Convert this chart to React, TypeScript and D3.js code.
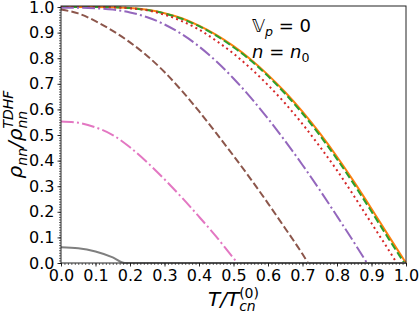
import React, { useEffect, useRef } from "react";
import * as d3 from "d3";

// temperature grid T/Tcn(0)
const tGrid = [0, 0.05, 0.1, 0.15, 0.2, 0.25, 0.3, 0.35, 0.4, 0.45, 0.5, 0.55, 0.6, 0.65, 0.7, 0.75, 0.8, 0.85, 0.9, 0.95, 1.0];

// rho_nn / rho_nn^TDHF, one array per line
const rhoOrange = [1.0, 1.0, 1.0, 0.999, 0.996, 0.989, 0.976, 0.956, 0.927, 0.891, 0.847, 0.795, 0.735, 0.667, 0.591, 0.507, 0.415, 0.316, 0.212, 0.105, 0.0];
const rhoGreen = [1.0, 1.0, 1.0, 0.999, 0.996, 0.988, 0.975, 0.954, 0.925, 0.888, 0.843, 0.791, 0.73, 0.661, 0.584, 0.499, 0.406, 0.306, 0.201, 0.094];
const rhoRed = [1.0, 1.0, 1.0, 0.999, 0.995, 0.987, 0.97, 0.945, 0.912, 0.868, 0.818, 0.76, 0.695, 0.623, 0.543, 0.455, 0.362, 0.26, 0.155, 0.05];
const rhoPurple = [0.997, 0.997, 0.995, 0.99, 0.979, 0.96, 0.932, 0.894, 0.846, 0.788, 0.721, 0.646, 0.564, 0.476, 0.383, 0.285, 0.183, 0.079];
const rhoBrown = [0.99, 0.975, 0.945, 0.907, 0.862, 0.809, 0.746, 0.673, 0.593, 0.507, 0.419, 0.328, 0.233, 0.135, 0.035];
const rhoPink = [0.553, 0.548, 0.53, 0.5, 0.452, 0.393, 0.327, 0.256, 0.181, 0.103, 0.019];
const rhoGray = [0.062, 0.058, 0.045, 0.022];

// where each curve hits zero
const tcGreen = 0.995;
const tcRed = 0.973;
const tcPurple = 0.887;
const tcBrown = 0.716;
const tcPink = 0.512;
const tcGray = 0.185;

const xTicks = [0, 0.1, 0.2, 0.3, 0.4, 0.5, 0.6, 0.7, 0.8, 0.9, 1.0];
const yTicks = [0, 0.1, 0.2, 0.3, 0.4, 0.5, 0.6, 0.7, 0.8, 0.9, 1.0];

const App = () => {
  const ref = useRef<SVGSVGElement>(null);

  useEffect(() => {
    const width = 420;
    const height = 315;
    const margin = { top: 6, left: 61, bottom: 52, right: 14 };
    const font = "DejaVu Sans";

    const svg = d3.select(ref.current);
    svg.selectAll("*").remove();

    const x = d3.scaleLinear().domain([0, 1.0]).range([margin.left, width - margin.right]);
    const y = d3.scaleLinear().domain([0, 1.004]).range([height - margin.bottom, margin.top]);

    // @ts-ignore
    const pts = (vals, tc, tail) => {
      const p = vals.map((v: number, i: number) => [tGrid[i], v]);
      if (tc !== null) p.push([tc, 0]);
      if (tail) p.push([1.0, 0]);
      return p;
    };

    const series = [
      { d: pts(rhoOrange, null, false), c: "#ff7f0e", dash: "" },
      { d: pts(rhoGreen, tcGreen, false), c: "#2ca02c", dash: "7.4,3.2" },
      { d: pts(rhoRed, tcRed, false), c: "#d62728", dash: "2,3.3" },
      { d: pts(rhoPurple, tcPurple, false), c: "#9467bd", dash: "12.8,3.2,2,3.2" },
      { d: pts(rhoBrown, tcBrown, false), c: "#8c564b", dash: "7.4,3.2" },
      { d: pts(rhoPink, tcPink, false), c: "#e377c2", dash: "12.8,3.2,2,3.2" },
      { d: pts(rhoGray, tcGray, true), c: "#7f7f7f", dash: "" },
    ];

    const line = d3
      .line()
      // @ts-ignore
      .x((d) => x(d[0]))
      // @ts-ignore
      .y((d) => y(d[1]))
      .curve(d3.curveMonotoneX);

    series.forEach((s) => {
      svg
        .append("path")
        .datum(s.d)
        .attr("fill", "none")
        .attr("stroke", s.c)
        .attr("stroke-width", 2)
        .attr("stroke-dasharray", s.dash || null)
        // @ts-ignore
        .attr("d", line);
    });

    // minor ticks
    const minor = d3.range(0, 1.0001, 0.01);
    svg
      .append("g")
      .attr("transform", `translate(0, ${height - margin.bottom})`)
      .call(d3.axisBottom(x).tickValues(minor).tickSize(2).tickFormat(() => ""))
      // @ts-ignore
      .call((g) => g.select(".domain").remove())
      .selectAll("line")
      .attr("stroke-width", 0.6);
    svg
      .append("g")
      .attr("transform", `translate(${margin.left}, 0)`)
      .call(d3.axisLeft(y).tickValues(minor).tickSize(2).tickFormat(() => ""))
      // @ts-ignore
      .call((g) => g.select(".domain").remove())
      .selectAll("line")
      .attr("stroke-width", 0.6);

    // major ticks
    const xAxis = svg
      .append("g")
      .attr("transform", `translate(0, ${height - margin.bottom})`)
      .call(d3.axisBottom(x).tickValues(xTicks).tickSize(3.5).tickFormat(d3.format(".1f")));
    xAxis.select(".domain").remove();
    const yAxis = svg
      .append("g")
      .attr("transform", `translate(${margin.left}, 0)`)
      .call(d3.axisLeft(y).tickValues(yTicks).tickSize(3.5).tickFormat(d3.format(".1f")));
    yAxis.select(".domain").remove();
    [xAxis, yAxis].forEach((g) => {
      g.attr("font-family", font).attr("font-size", 16);
      g.selectAll("line").attr("stroke-width", 0.8);
      g.selectAll("text").attr("fill", "#000");
    });

    // frame
    svg
      .append("rect")
      .attr("x", margin.left)
      .attr("y", margin.top)
      .attr("width", width - margin.left - margin.right)
      .attr("height", height - margin.top - margin.bottom)
      .attr("fill", "none")
      .attr("stroke", "#222")
      .attr("stroke-width", 1);

    // x label  T/T_cn^(0)
    const xl = svg
      .append("text")
      .attr("x", (margin.left + width - margin.right) / 2)
      .attr("y", 306)
      .attr("text-anchor", "middle")
      .attr("font-family", font)
      .attr("font-size", 20)
      .attr("font-style", "italic");
    xl.append("tspan").text("T/T");
    xl.append("tspan").attr("font-size", 14).attr("dy", 5).text("cn");
    xl.append("tspan").attr("font-size", 14).attr("font-style", "normal").attr("dx", -16.6).attr("dy", -13).text("(0)");

    // y label  rho_nn / rho_nn^TDHF
    const yl = svg
      .append("text")
      .attr("transform", `translate(22, ${(margin.top + height - margin.bottom) / 2}) rotate(-90)`)
      .attr("text-anchor", "middle")
      .attr("font-family", font)
      .attr("font-size", 20)
      .attr("font-style", "italic");
    yl.append("tspan").text("ρ");
    yl.append("tspan").attr("font-size", 14).attr("dy", 5).text("nn");
    yl.append("tspan").attr("dy", -5).text("/ρ");
    yl.append("tspan").attr("font-size", 14).attr("dy", 5).text("nn");
    yl.append("tspan").attr("font-size", 14).attr("dx", -17.8).attr("dy", -14).text("TDHF");

    // annotation
    const a1 = svg
      .append("text")
      .attr("x", 252)
      .attr("y", 32)
      .attr("font-family", font)
      .attr("font-size", 18);
    a1.append("tspan").text("𝕍");
    a1.append("tspan").attr("font-size", 12.6).attr("font-style", "italic").attr("dy", 4).text("p");
    a1.append("tspan").attr("dy", -4).text(" = 0");

    const a2 = svg
      .append("text")
      .attr("x", 252)
      .attr("y", 58)
      .attr("font-family", font)
      .attr("font-size", 18);
    a2.append("tspan").attr("font-style", "italic").text("n");
    a2.append("tspan").text(" = ");
    a2.append("tspan").attr("font-style", "italic").text("n");
    a2.append("tspan").attr("font-size", 12.6).attr("dy", 4).text("0");
  }, []);

  return <svg ref={ref} width={420} height={315} style={{ position: "absolute", left: 0, top: 0 }} />;
};

export default App;
